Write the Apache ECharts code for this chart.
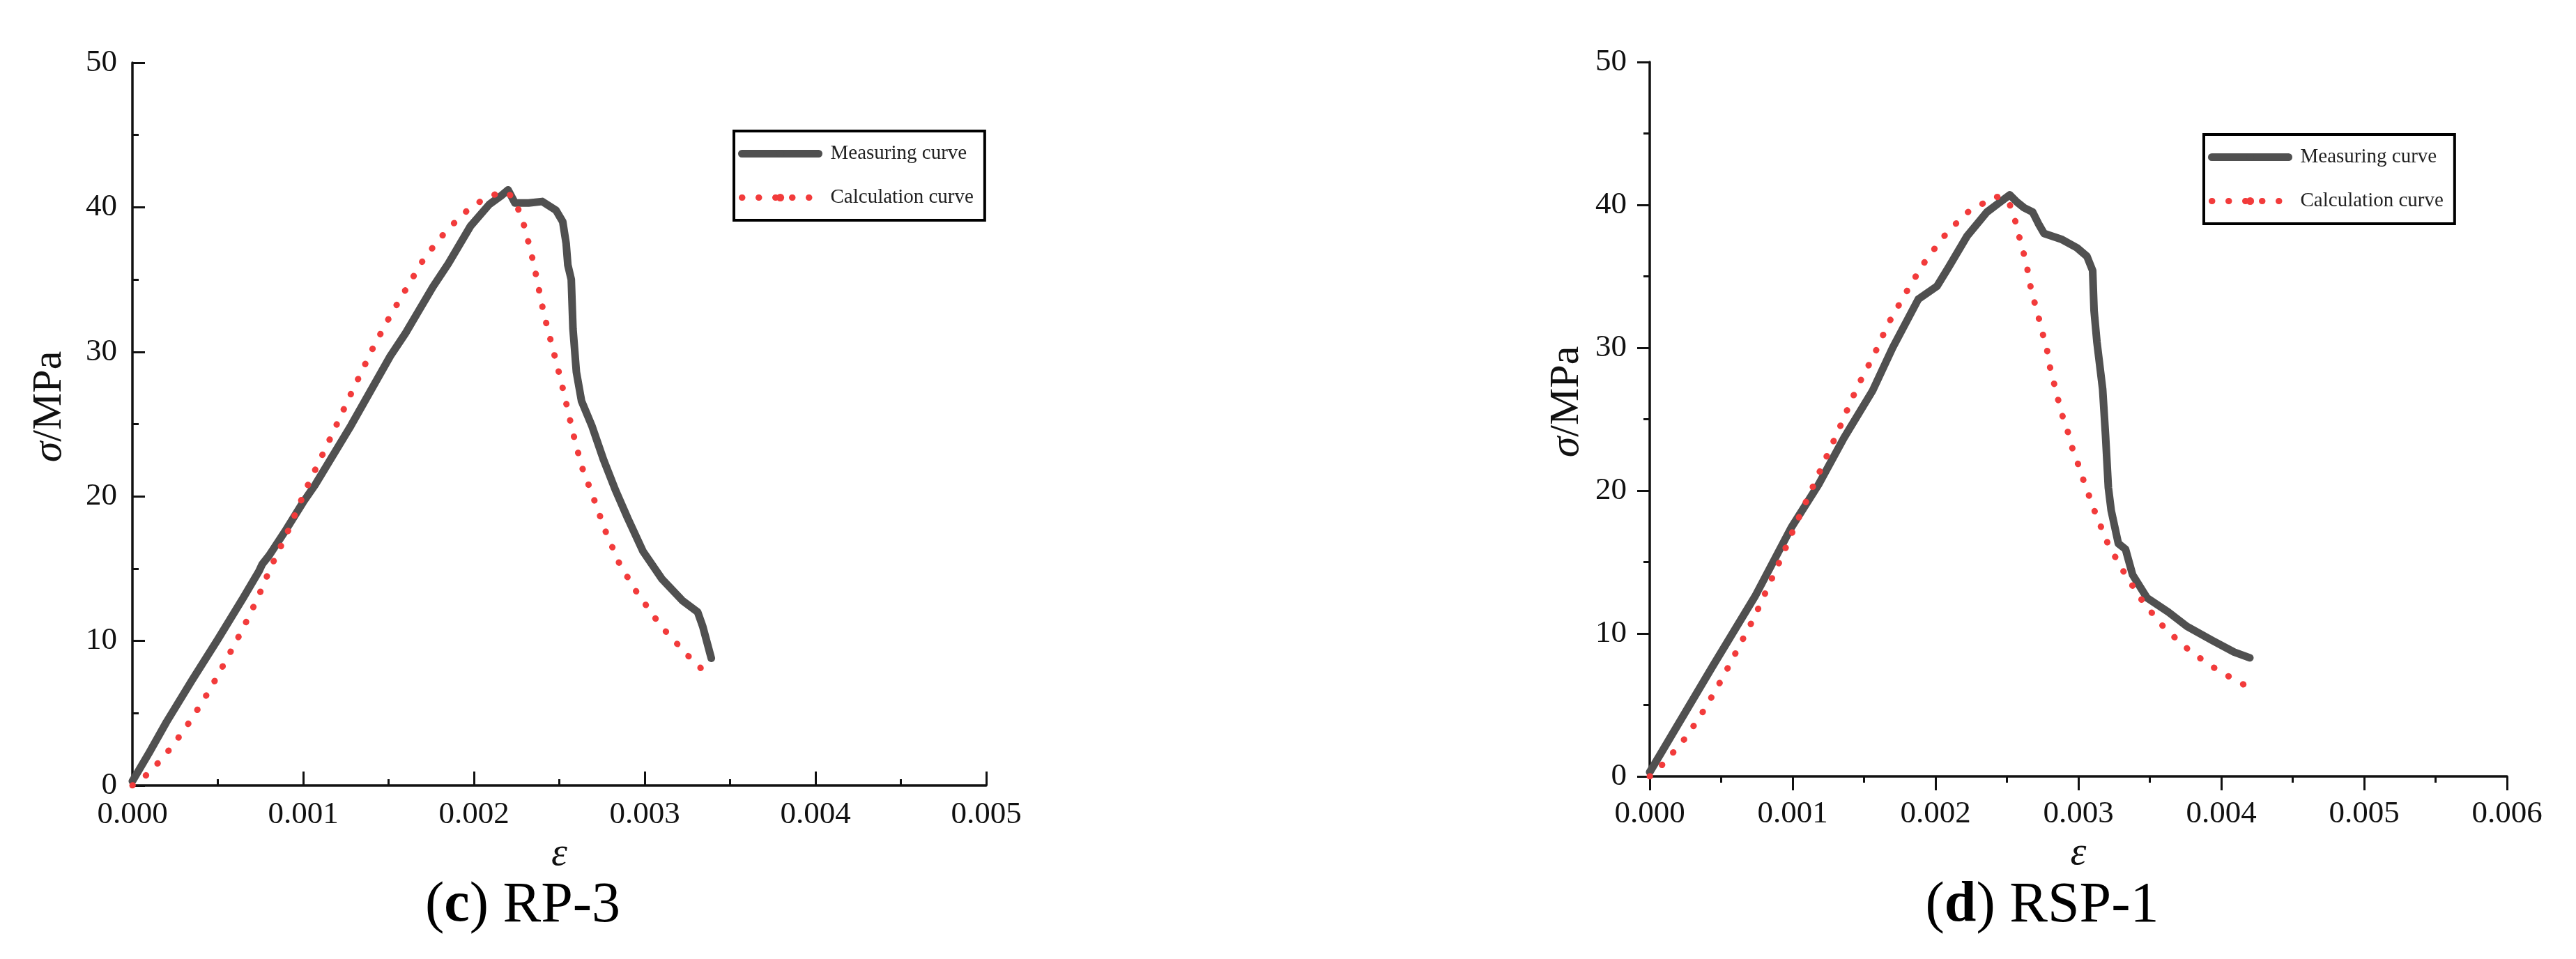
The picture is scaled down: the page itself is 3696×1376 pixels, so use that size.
<!DOCTYPE html>
<html>
<head>
<meta charset="utf-8">
<title>RP-3 / RSP-1 stress-strain</title>
<script src="https://cdn.jsdelivr.net/npm/echarts@6/dist/echarts.min.js"></script>
<style>
    html, body { margin: 0; padding: 0; background: #fff; }
    #chart { width: 3696px; height: 1376px; }
</style>
</head>
<body>
<div id="chart"></div>
<script>
// 数据: [应变, 应力(MPa)]
var rp3Measuring = [
    [0, 0.3], [0.0001, 2.3], [0.0002, 4.4], [0.00035, 7.3], [0.0005, 10.1],
    [0.00065, 13.0], [0.00074, 14.8], [0.00076, 15.3], [0.0008, 15.9], [0.0009, 17.7],
    [0.001, 19.6], [0.00107, 20.8], [0.00128, 24.9], [0.00151, 29.7], [0.0016, 31.3],
    [0.00167, 32.7], [0.00176, 34.5], [0.00185, 36.1], [0.00198, 38.7], [0.00209, 40.2],
    [0.00216, 40.8], [0.0022, 41.2], [0.00224, 40.3], [0.00232, 40.3], [0.0024, 40.4],
    [0.00248, 39.8], [0.00252, 39.0], [0.00254, 37.5], [0.00255, 36.0], [0.00257, 35.0],
    [0.00258, 31.6], [0.0026, 28.6], [0.00263, 26.6], [0.00269, 24.9], [0.00276, 22.5],
    [0.00283, 20.4], [0.0029, 18.5], [0.00299, 16.2], [0.0031, 14.3], [0.00322, 12.8],
    [0.00331, 12.0], [0.00334, 11.0], [0.00339, 8.8]
];
var rp3Calculation = [
    [0, 0], [0.000102, 0.9], [0.000233, 2.7], [0.000347, 4.6], [0.000457, 6.7],
    [0.00055, 8.7], [0.000645, 10.8], [0.000735, 13.0], [0.00081, 15.1], [0.0009, 17.3],
    [0.00102, 20.6], [0.00115, 23.8], [0.00128, 27.1], [0.00141, 30.3], [0.00151, 32.5],
    [0.00161, 34.5], [0.00171, 36.5], [0.00184, 38.4], [0.00198, 40.0], [0.00208, 40.7],
    [0.00215, 41.0], [0.0022, 41.0], [0.00223, 40.6], [0.00227, 39.6], [0.0023, 38.5],
    [0.00235, 36.1], [0.00241, 32.6], [0.00246, 30.3], [0.00251, 28.0], [0.00258, 24.4],
    [0.00263, 22.1], [0.0027, 19.9], [0.00277, 17.6], [0.00285, 15.4], [0.00294, 13.6],
    [0.003, 12.6], [0.00306, 11.6], [0.00312, 10.7], [0.00319, 9.8], [0.00326, 8.9],
    [0.00333, 8.1]
];
var rsp1Measuring = [
    [0, 0.3], [0.00044, 7.7], [0.000737, 12.6], [0.00099, 17.4], [0.00118, 20.4],
    [0.00136, 23.7], [0.00156, 27.0], [0.0017, 30.0], [0.00188, 33.4], [0.00201, 34.3],
    [0.00209, 35.6], [0.00222, 37.8], [0.00236, 39.5], [0.00244, 40.1], [0.00252, 40.7],
    [0.00257, 40.2], [0.00262, 39.8], [0.00268, 39.5], [0.00272, 38.7], [0.00276, 38.0],
    [0.00288, 37.6], [0.00299, 37.0], [0.00306, 36.4], [0.0031, 35.4], [0.00311, 32.6],
    [0.00313, 30.4], [0.00317, 27.1], [0.00319, 23.9], [0.00321, 20.2], [0.00323, 18.6],
    [0.00328, 16.3], [0.00333, 15.9], [0.00338, 14.1], [0.00348, 12.5], [0.00363, 11.5],
    [0.00376, 10.5], [0.00394, 9.5], [0.00409, 8.7], [0.0042, 8.3]
];
var rsp1Calculation = [
    [0, 0], [0.000107, 1.0], [0.000259, 2.8], [0.00039, 4.8], [0.00051, 6.9],
    [0.00062, 9.0], [0.00073, 11.1], [0.00083, 13.3], [0.00093, 15.5], [0.00102, 17.6],
    [0.00112, 19.8], [0.00122, 22.0], [0.00132, 24.2], [0.00141, 26.3], [0.00146, 27.4],
    [0.00157, 29.5], [0.00167, 31.7], [0.00179, 33.8], [0.00191, 35.8], [0.00205, 37.7],
    [0.00221, 39.4], [0.00242, 40.6], [0.00251, 40.3], [0.00255, 39.2], [0.00258, 38.0],
    [0.00261, 36.9], [0.00264, 35.7], [0.00266, 34.5], [0.00269, 33.3], [0.00272, 32.2],
    [0.00275, 31.0], [0.00278, 29.9], [0.0028, 28.7], [0.00283, 27.5], [0.00286, 26.3],
    [0.00289, 25.2], [0.00293, 24.0], [0.00296, 22.9], [0.003, 21.8], [0.00304, 20.6],
    [0.00312, 18.4], [0.00321, 16.2], [0.00333, 14.1], [0.00346, 12.1], [0.00361, 10.3],
    [0.00379, 8.7], [0.00398, 7.4], [0.00418, 6.3]
];
var xMaxList = [0.005, 0.006];
var yMax = 50;
var captions = ['({b|c}) RP-3', '({b|d}) RSP-1'];
var seriesNames = ['Measuring curve', 'Calculation curve'];

(function() {
    var FONT = 'Liberation Serif';
    var GRAY = '#505050';
    var RED = '#F23B3B';
    var myChart = echarts.init(document.getElementById('chart'));

    // 坐标轴公共样式
    function xAxisOf(idx, inside, gap) {
        return {
            type: 'value',
            gridIndex: idx,
            min: 0,
            max: xMaxList[idx],
            interval: 0.001,
            name: 'ε',
            nameLocation: 'middle',
            nameGap: gap,
            nameTextStyle: { fontFamily: FONT, fontStyle: 'italic', fontSize: 58, color: '#111' },
            axisLine: { onZero: false, lineStyle: { color: '#111', width: 3.5 } },
            axisTick: { show: true, inside: inside, length: 20, lineStyle: { color: '#111', width: 3 } },
            minorTick: { show: true, splitNumber: 2, length: 9, lineStyle: { color: '#111', width: 3 } },
            splitLine: { show: false },
            axisLabel: {
                fontFamily: FONT, fontSize: 45, color: '#111',
                margin: inside ? 20 : 32,
                formatter: function(v) { return v.toFixed(3); }
            }
        };
    }
    function yAxisOf(idx, inside) {
        return {
            type: 'value',
            gridIndex: idx,
            min: 0,
            max: yMax,
            interval: 10,
            name: '{i|σ}/MPa',
            nameLocation: 'middle',
            nameRotate: 90,
            nameGap: 89,
            nameTextStyle: {
                fontFamily: FONT, fontSize: 60, color: '#111',
                padding: [0, 0, 0, 50],
                rich: { i: { fontFamily: FONT, fontStyle: 'italic', fontSize: 60, color: '#111' } }
            },
            axisLine: { onZero: false, lineStyle: { color: '#111', width: 3.5 } },
            axisTick: { show: true, inside: inside, length: 18, lineStyle: { color: '#111', width: 3 } },
            minorTick: { show: true, splitNumber: 2, length: 9, lineStyle: { color: '#111', width: 3 } },
            splitLine: { show: false },
            axisLabel: { fontFamily: FONT, fontSize: 45, color: '#111', margin: inside ? 22 : 33 }
        };
    }
    function legendOf(left, top) {
        return {
            left: left,
            top: top,
            orient: 'vertical',
            selectedMode: false,
            borderColor: '#000',
            borderWidth: 4,
            padding: [18, 16, 18, 6],
            itemGap: 34,
            itemWidth: 110,
            itemHeight: 14,
            textStyle: { fontFamily: FONT, fontSize: 29, color: '#222', padding: [0, 0, 0, 12] },
            data: [
                { name: seriesNames[0], lineStyle: { color: GRAY, width: 11, cap: 'round' } },
                { name: seriesNames[1], lineStyle: { color: RED, width: 9, type: [0.5, 23.5], cap: 'round' } }
            ]
        };
    }
    function seriesOf(idx, measuring, calculation) {
        return [{
            name: seriesNames[0],
            type: 'line',
            xAxisIndex: idx,
            yAxisIndex: idx,
            data: measuring,
            symbol: 'none',
            z: 2,
            itemStyle: { color: GRAY },
            lineStyle: { color: GRAY, width: 11, cap: 'round', join: 'round' }
        }, {
            name: seriesNames[1],
            type: 'line',
            xAxisIndex: idx,
            yAxisIndex: idx,
            data: calculation,
            symbol: 'none',
            z: 3,
            itemStyle: { color: RED },
            lineStyle: { color: RED, width: 9, type: [0.5, 23.5], cap: 'round' }
        }];
    }
    function captionOf(x, text) {
        return {
            type: 'text',
            x: x,
            y: 1300,
            style: {
                text: text,
                fontFamily: FONT,
                fontSize: 82,
                fill: '#000',
                align: 'center',
                verticalAlign: 'middle',
                rich: { b: { fontFamily: FONT, fontSize: 82, fontWeight: 'bold', fill: '#000' } }
            }
        };
    }

    var option = {
        animation: false,
        backgroundColor: '#fff',
        grid: [
            { left: 190, top: 90, width: 1225, height: 1037, outerBoundsMode: 'none', containLabel: false },
            { left: 2367, top: 89, width: 1230, height: 1025, outerBoundsMode: 'none', containLabel: false }
        ],
        xAxis: [xAxisOf(0, true, 54), xAxisOf(1, false, 67)],
        yAxis: [yAxisOf(0, true), yAxisOf(1, false)],
        legend: [legendOf(1053, 188), legendOf(3162, 193)],
        series: seriesOf(0, rp3Measuring, rp3Calculation).concat(seriesOf(1, rsp1Measuring, rsp1Calculation)),
        graphic: [captionOf(750, captions[0]), captionOf(2930, captions[1])]
    };
    myChart.setOption(option);
})();
</script>
</body>
</html>
